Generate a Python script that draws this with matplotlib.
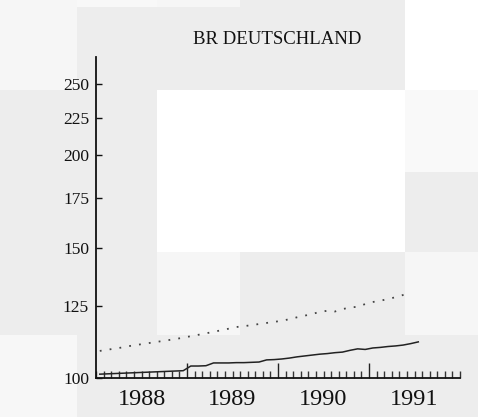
import matplotlib
matplotlib.use("Agg")
import matplotlib.pyplot as plt
from matplotlib.patches import Rectangle
import matplotlib.ticker as mticker

title = "BR DEUTSCHLAND"
years = ["1988", "1989", "1990", "1991"]
y_ticks = [100, 125, 150, 175, 200, 225, 250]

# monthly index values, Jan 1988 = month 0
dotted_vals = [108.8, 109.2, 109.6, 110.0, 110.5, 110.9, 111.3, 111.7, 112.1, 112.5,
               112.9, 113.4, 113.9, 114.4, 114.9, 115.5, 116.0, 116.6, 117.2, 117.5,
               117.9, 118.3, 118.7, 119.1, 119.5, 120.1, 120.8, 121.4, 122.1, 122.8,
               123.3, 123.0, 123.9, 124.6, 124.8, 125.9, 126.7, 127.2, 127.9, 128.6,
               129.5, 130.3]
solid_vals = [101.2, 101.3, 101.4, 101.5, 101.6, 101.7, 101.8, 101.9, 102.0, 102.1,
              102.2, 102.3, 103.8, 103.8, 103.9, 104.8, 104.8, 104.8, 104.9, 104.9,
              105.0, 105.1, 105.8, 105.9, 106.1, 106.4, 106.8, 107.1, 107.4, 107.7,
              107.9, 108.2, 108.4, 109.0, 109.5, 109.3, 109.8, 110.0, 110.3, 110.5,
              110.8, 111.3, 111.9]

W, H = 478, 417
fig = plt.figure(figsize=(W / 100, H / 100), dpi=100)
fig.patch.set_facecolor("#ededed")

# lighter blocks of the scanned background (pixel boxes x0, y0, x1, y1)
bg_blocks = [
    ((0, 0, 77, 90), "#f6f6f6"),
    ((77, 0, 157, 7), "#f8f8f8"),
    ((157, 0, 240, 7), "#f6f6f6"),
    ((157, 90, 405, 252), "#ffffff"),
    ((405, 0, 478, 90), "#ffffff"),
    ((405, 90, 478, 172), "#f9f9f9"),
    ((157, 252, 240, 335), "#f6f6f6"),
    ((405, 252, 478, 335), "#f6f6f6"),
    ((0, 335, 77, 417), "#f7f7f7"),
]
for (x0, y0, x1, y1), c in bg_blocks:
    fig.patches.append(Rectangle((x0 / W, 1 - y1 / H), (x1 - x0) / W, (y1 - y0) / H,
                                 transform=fig.transFigure, facecolor=c,
                                 edgecolor="none", zorder=-10))

left, right, bottom, top = 96, 460, 378, 57
ax = fig.add_axes([left / W, 1 - bottom / H, (right - left) / W, (bottom - top) / H])
ax.set_facecolor("none")

font = "Liberation Serif"

xd = [m + 0.5 for m in range(len(dotted_vals))]
xs = [m + 0.5 for m in range(len(solid_vals))]
ax.plot(xd, dotted_vals, color="#444444", lw=1.3, linestyle=(0, (1, 4.5)))
ax.plot(xs, solid_vals, color="#222222", lw=1.1)

ax.set_yscale("log")
ax.set_ylim(100, 271.7)
ax.set_xlim(0, 48)

ax.yaxis.set_major_locator(mticker.FixedLocator(y_ticks))
ax.yaxis.set_major_formatter(mticker.FixedFormatter([str(v) for v in y_ticks]))
ax.yaxis.set_minor_locator(mticker.NullLocator())
ax.tick_params(axis="y", direction="in", length=4, width=1, pad=5,
               labelsize=12.5, colors="#111111")
for lab in ax.get_yticklabels():
    lab.set_family(font)

ax.xaxis.set_major_locator(mticker.FixedLocator([12, 24, 36]))
ax.xaxis.set_major_formatter(mticker.NullFormatter())
ax.xaxis.set_minor_locator(mticker.MultipleLocator(1))
ax.tick_params(axis="x", which="major", direction="in", length=11, width=1, color="#222222")
ax.tick_params(axis="x", which="minor", direction="in", length=5, width=1, color="#333333")

sec = ax.secondary_xaxis("bottom")
sec.set_xticks([6 + 12 * i for i in range(len(years))], years)
sec.tick_params(length=0, pad=8, labelsize=17.5, colors="#111111")
for lab in sec.get_xticklabels():
    lab.set_family(font)
sec.spines["bottom"].set_visible(False)

for s in ["top", "right"]:
    ax.spines[s].set_visible(False)
for s in ["left", "bottom"]:
    ax.spines[s].set_color("#111111")
    ax.spines[s].set_linewidth(1.3)

fig.text(277 / W, 1 - 40 / H, title, ha="center", va="center",
         fontsize=13.5, family=font, color="#111111")

fig.savefig("out.png", dpi=100, facecolor=fig.get_facecolor())
